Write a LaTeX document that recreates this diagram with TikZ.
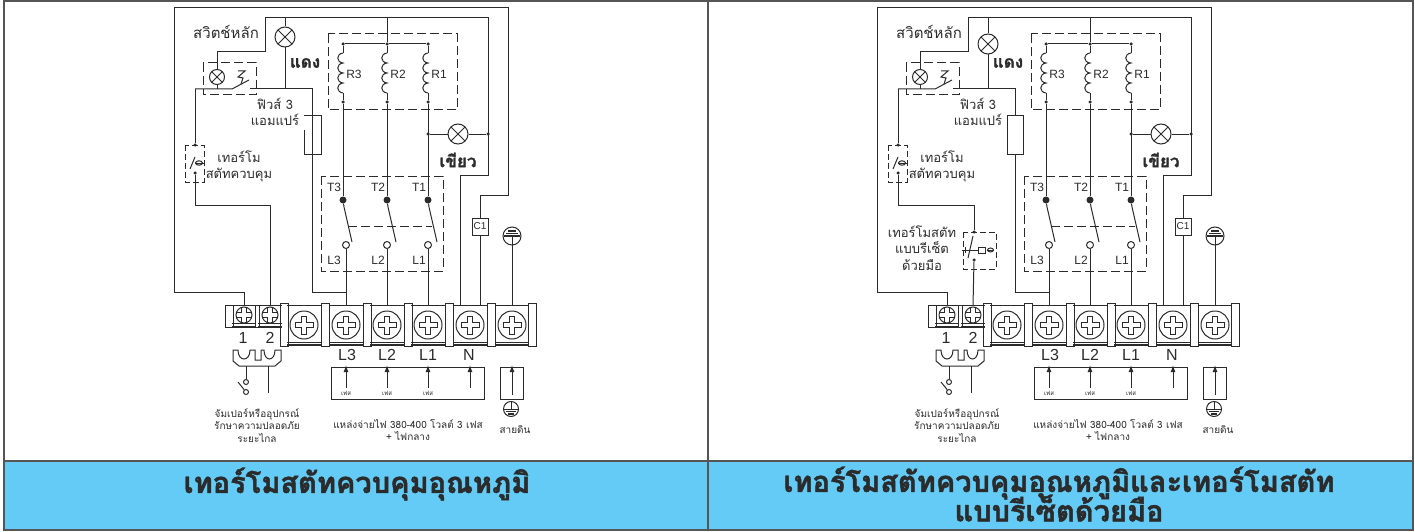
\documentclass[tikz,border=0pt]{standalone}
\usepackage{fontspec}
\setmainfont{Liberation Sans}
\newfontfamily\thaifont[Script=Thai,BoldFeatures={FakeBold=1.5}]{Loma}
\usetikzlibrary{calc,arrows.meta}
\definecolor{wirecol}{HTML}{2B2B2B}
\definecolor{titleblue}{HTML}{63CBF5}
\definecolor{ruleg}{HTML}{555555}
\tikzset{
    wire/.style={draw=wirecol, line width=1pt},
    dashbox/.style={draw=wirecol, line width=1pt, dash pattern=on 9pt off 4pt},
    jdot/.style={circle, fill=wirecol, inner sep=0pt, minimum size=3.5pt},
    tdot/.style={circle, fill=wirecol, inner sep=0pt, minimum size=7pt},
    lring/.style={circle, draw=wirecol, line width=1pt, fill=white, inner sep=0pt, minimum size=7pt},
    lampx/.style={circle, draw=wirecol, line width=1pt, fill=white, inner sep=0pt, minimum size=#1,
        path picture={\draw[wirecol, line width=1pt] (path picture bounding box.south west) -- (path picture bounding box.north east)
            (path picture bounding box.north west) -- (path picture bounding box.south east);}},
    screwx/.style={circle, draw=wirecol, line width=1pt, fill=white, inner sep=0pt, minimum size=#1pt,
        path picture={\draw[shift={(path picture bounding box.center)}, scale=#1/28, draw=wirecol, line width=0.8pt, fill=white]
            (-2.5,-9) -- (2.5,-9) -- (2.5,-2.5) -- (9,-2.5) -- (9,2.5) -- (2.5,2.5) -- (2.5,9) -- (-2.5,9) -- (-2.5,2.5) -- (-9,2.5) -- (-9,-2.5) -- (-2.5,-2.5) -- cycle;}},
    postbox/.style={draw=wirecol, line width=1pt, fill=white, inner sep=0pt},
    cellbox/.style={inner sep=0pt, minimum width=34pt},
    thlabel/.style={font=\thaifont\fontsize{#1}{\the\dimexpr#1pt*5/4\relax}\selectfont, text=wirecol, align=center, inner sep=0pt},
    thbold/.style={font=\thaifont\bfseries\fontsize{#1}{#1}\selectfont, text=wirecol, align=center, inner sep=0pt},
    latlabel/.style={font=\fontsize{#1}{#1}\selectfont, text=wirecol, inner sep=0pt},
    coil/.pic={\draw[wirecol, line width=1pt] (0,0) .. controls (-7,1) and (-7,9) .. (0,10) .. controls (-7,11) and (-7,19) .. (0,20)
        .. controls (-7,21) and (-7,29) .. (0,30) .. controls (-7,31) and (-7,39) .. (0,40);}
}

% parts that both panels share
\newcommand{\panelparts}[2]{
    \coordinate (framea) at (174,8);
    \coordinate (frameb) at (508,8);
    \coordinate (framec) at (508,195);
    \coordinate (framed) at (480,195);
    \coordinate (framee) at (174,292);
    \coordinate (livea) at (265,18);
    \coordinate (liveb) at (488,18);
    \coordinate (livec) at (488,175);
    \coordinate (lived) at (460,175);
    \coordinate (livee) at (265,52);
    \coordinate (livef) at (217,52);
    \coordinate (ctrla) at (195,89);
    \coordinate (ctrlb) at (232,89);
    \coordinate (ctrlc) at (250,89);
    \coordinate (ctrld) at (312,89);
    \coordinate (ctrle) at (312,292);
    \coordinate (ctrlf) at (195,205);

    % terminals
    \foreach \px in {284,325,367,408,449,491,532}
        \node[postbox, minimum width=8pt, minimum height=43pt] (post\px) at (\px,324.5) {};
    \foreach \px/\cname in {304/a,346/L3,387/L2,428/L1,470/N,512/E} {
        \node[cellbox, minimum height=36pt] (cell\cname) at (\px,324) {};
        \draw[wire] (cell\cname.north west) -- (cell\cname.north east);
        \draw[wire] (\px-17,342) -- (\px+17,342);
        \draw[wire, line width=1.4pt] (\px-17,345) -- (\px+17,345);
        \node[screwx=28] (screw\cname) at (\px,325) {};
    }
    \node[postbox, minimum width=8pt, minimum height=22pt] (posts) at (229,316) {};
    \node[postbox, minimum width=4pt, minimum height=22pt] (postt) at (257,316) {};
    \foreach \px/\cname in {244/1,270/2} {
        \node[cellbox, minimum width=24pt, minimum height=17pt] (cell\cname) at (\px,314.5) {};
        \draw[wire] (cell\cname.north west) -- (cell\cname.north east);
        \draw[wire] (\px-12,323) -- (\px+12,323);
        \draw[wire, line width=1.4pt] (\px-12,327) -- (\px+12,327);
        \node[screwx=16] (screw\cname) at (\px,315) {};
    }
    \foreach \px/\tname in {243/1,270/2,347/L3,387/L2,428/L1,469/N}
        \node[latlabel=16] (lab\tname) at (\px,\ifnum\px<300 338\else 355\fi) {\tname};

    % heater bank
    \draw[dashbox] (328,34) rectangle (457,110);
    \foreach \rx/\rname in {343/3,387/2,428/1} {
        \node[jdot] (rtop\rname) at (\rx,44) {};
        \node[jdot] (rbot\rname) at (\rx,102) {};
        \node[tdot] (tdot\rname) at (\rx,200) {};
        \node[lring] (lring\rname) at (\ifnum\rx=343 346\else\rx\fi,245) {};
        \node[latlabel=12] (rlab\rname) at (\rx+11,74) {R\rname};
        \node[latlabel=12] (tlab\rname) at (\rx-9,187) {T\rname};
        \node[latlabel=12] (llab\rname) at (\rx-9,260) {L\rname};
        \draw[wire] (rtop\rname) -- (\rx,53) pic {coil} (\rx,93) -- (rbot\rname) -- (tdot\rname);
        \draw[wire] (tdot\rname) -- ($(tdot\rname)+(1,7)$) -- ($(tdot\rname)+(9,42)$);
    }
    \draw[wire] (lring3) -- (lring3 |- cellL3.north);
    \draw[wire] (lring2) -- (lring2 |- cellL2.north);
    \draw[wire] (lring1) -- (lring1 |- cellL1.north);
    \draw[wire] (rtop3) -- (rtop2) -- (rtop1);
    \draw[wire] (rtop2 |- livea) -- (rtop2);
    \draw[dashbox] (321,176) rectangle (443,271);
    \draw[wire, dash pattern=on 9pt off 4pt] (348,226) -- (432,226);

    % power wires
    \draw[wire] (lived |- cellN.north) -- (lived) -- (livec) -- (liveb) -- (livea) -- (livee) -- (livef);
    \node[lampx=15pt] (lampoff) at (217,77) {};
    \draw[wire] (livef) -- (lampoff);
    \draw[wire] (lampoff) -- (lampoff |- ctrla);
    \draw[dashbox] (203,63) rectangle (256,95);
    \draw[wire] (ctrla) -- (ctrlb) -- (249,80);
    \draw[wire] (ctrlc) -- (ctrld) -- (ctrle) -- (cellL3.north |- ctrle);
    \draw[wire] (238,71) -- (245,71) -- (238,77) -- (243,78) -- (241,84);
    \node[lampx=20pt] (lampred) at (285,#1) {};
    \draw[wire] (lampred |- livea) -- (lampred) -- (lampred |- ctrla);
    \node[latlabel=10, draw=wirecol, line width=1pt, minimum width=16pt, minimum height=17pt] (fuseC) at (480,226.5) {C1};
    \draw[wire] (framed |- cellN.north) -- (fuseC);
    \draw[wire] (fuseC) -- (framed) -- (framec) -- (frameb) -- (framea) -- (framee) -- (framee -| cell1.north) -- (cell1.north);

    % green lamp
    \node[jdot] (gdota) at (428,134) {};
    \node[jdot] (gdotb) at (488,134) {};
    \node[lampx=20pt] (lampgreen) at (458,134) {};
    \draw[wire] (gdota) -- (lampgreen) -- (gdotb);

    % control thermostat
    \node[jdot] (cdota) at (195,145) {};
    \node[jdot] (cdotb) at (195,173) {};
    \draw[dashbox, dash pattern=on 6pt off 3pt] (185,145) rectangle (204,182);
    \draw[wire] (ctrla) -- (cdota);
    \draw[wire] (195,157) -- (190,169);
    \draw[wire] (195,163) -- (204,163);
    \draw[wire] (199,163) ellipse (3.5pt and 2.2pt);
    \draw[wire] (cdotb) -- (ctrlf);

    % earth
    \node[circle, draw=wirecol, line width=1pt, inner sep=0pt, minimum size=18pt] (earthtop) at (512,236) {};
    \draw[wirecol, line width=1.2pt] (508,231) -- (516,231) (506,233.5) -- (518,233.5);
    \draw[wirecol, line width=1.8pt] (504,236) -- (520,236);
    \draw[wire] (earthtop.center) -- (earthtop |- cellE.north);
    \node[circle, draw=wirecol, line width=1pt, inner sep=0pt, minimum size=15pt] (earthlow) at (511,409) {};
    \draw[wire] (earthlow.north) -- (earthlow.center);
    \draw[wirecol, line width=1pt] (504,409) -- (518,409);
    \draw[wirecol, line width=1.2pt] (506,411.5) -- (516,411.5) (508,414) -- (514,414);

    % jumper
    \draw[wire] (233,350) -- (233,361) -- (239,366) -- (275,366) -- (281,361) -- (281,350) -- (275,350)
        .. controls (275,362) and (264,362) .. (264,350) -- (261,350) -- (261,360) -- (255,360) -- (255,350) -- (250,350)
        .. controls (250,362) and (238,362) .. (238,350) -- cycle;
    \node[lring, minimum size=5pt] (jringa) at (246,382) {};
    \node[lring, minimum size=5pt] (jringb) at (246,392) {};
    \coordinate (jumpa) at (246,366);
    \coordinate (jumpb) at (268,366);
    \coordinate (jumpc) at (268,393);
    \draw[wire] (jumpa) -- (jringa);
    \draw[wire] (238,382) -- (jringb);
    \draw[wire] (jumpb) -- (jumpc);

    % supply
    \node[draw=wirecol, line width=1pt, minimum width=153pt, minimum height=32pt, inner sep=0pt] (supplybox) at (407.5,383) {};
    \node[draw=wirecol, line width=1pt, minimum width=23pt, minimum height=32pt, inner sep=0pt] (earthbox) at (511.5,383) {};
    \foreach \ax/\ay in {346/388,387/388,428/388,470/388,512/395} {
        \coordinate (feeda) at (\ax,\ay);
        \coordinate (feedb) at (\ax,365);
        \draw[wire, -{Latex[length=7pt,width=5pt]}] (feeda) -- (feedb);
    }
    \foreach \ax/\fname in {346/a,387/b,428/c}
        \node[thlabel=6, fill=white, inner xsep=1pt] (phase\fname) at (\ax,393) {เฟส};

    % texts
    \node[thlabel=15] (mainlab) at (226,32) {สวิตช์หลัก};
    \node[thbold=17] (redlab) at (305,63) {แดง};
    \node[thbold=17] (greenlab) at (458,160) {เขียว};
    \node[thlabel=10] (jumplab) at (#2,425.5) {จัมเปอร์หรืออุปกรณ์\\รักษาความปลอดภัย\\ระยะไกล};
    \node[thlabel=10] (supplylab) at (#2+151,430) {แหล่งจ่ายไฟ 380-400 โวลต์ 3 เฟส\\+ ไฟกลาง};
    \node[thlabel=10] (earthtext) at (515,430) {สายดิน};
}

\begin{document}
\begin{tikzpicture}[x=1pt, y=-1pt]
    \useasboundingbox (0,0) rectangle (1415,532);
    \fill[titleblue] (4,461) rectangle (1413,530);
    \draw[draw=ruleg, line width=1.5pt] (4,1) rectangle (1413,530);
    \draw[draw=ruleg, line width=1.5pt] (4,461) -- (1413,461);
    \draw[draw=ruleg, line width=1.5pt] (708,1) -- (708,530);

    \node[thbold=29] (titlea) at (357,484) {เทอร์โมสตัทควบคุมอุณหภูมิ};
    \node[thbold=29] (titleb) at (1059,483) {เทอร์โมสตัทควบคุมอุณหภูมิและเทอร์โมสตัท};
    \node[thbold=29] (titlec) at (1059,508) {แบบรีเซ็ตด้วยมือ};

    % left panel
    \begin{scope}
        \panelparts{37}{257}
        \draw[wire] (ctrlf) -- (ctrlf -| cell2.north) -- (cell2.north);
        \draw[wire] (304,130) -- (304,154) -- (321,154) -- (321,116) -- (304,116);
        \node[thlabel=13] (fuselab) at (275,112) {ฟิวส์ 3\\แอมแปร์};
        \node[thlabel=13] (thermolab) at (239,166) {เทอร์โม\\สตัทควบคุม};
    \end{scope}

    % right panel
    \begin{scope}[shift={(703,0)}]
        \panelparts{44}{254}
        \node[draw=wirecol, line width=1pt, fill=white, minimum width=16pt, minimum height=38pt, inner sep=0pt] (fusebox) at (312,135) {};
        \node[thlabel=13] (fuselab) at (275,112) {ฟิวส์ 3\\แอมแปร์};
        \node[thlabel=13] (thermolab) at (239,166) {เทอร์โม\\สตัทควบคุม};
        \coordinate (reseta) at (271,205);
        \node[jdot] (resetb) at (271,232) {};
        \node[jdot] (resetc) at (271,260) {};
        \draw[wire] (ctrlf) -- (reseta) -- (resetb);
        \draw[wire] (resetc) -- (cell2.north);
        \draw[dashbox, dash pattern=on 6pt off 3pt] (260,232) rectangle (293,269);
        \draw[wire] (270,236) -- (265,258);
        \draw[wire] (259,250) -- (275,250);
        \draw[wire] (262,247) -- (262,253);
        \draw[wire] (275,247) rectangle (282,253);
        \draw[wire] (284,250) -- (291,250);
        \draw[wire] (287.5,250) ellipse (3pt and 2pt);
        \node[thlabel=13] (resetlab) at (219,248) {เทอร์โมสตัท\\แบบรีเซ็ต\\ด้วยมือ};
    \end{scope}
\end{tikzpicture}
\end{document}
